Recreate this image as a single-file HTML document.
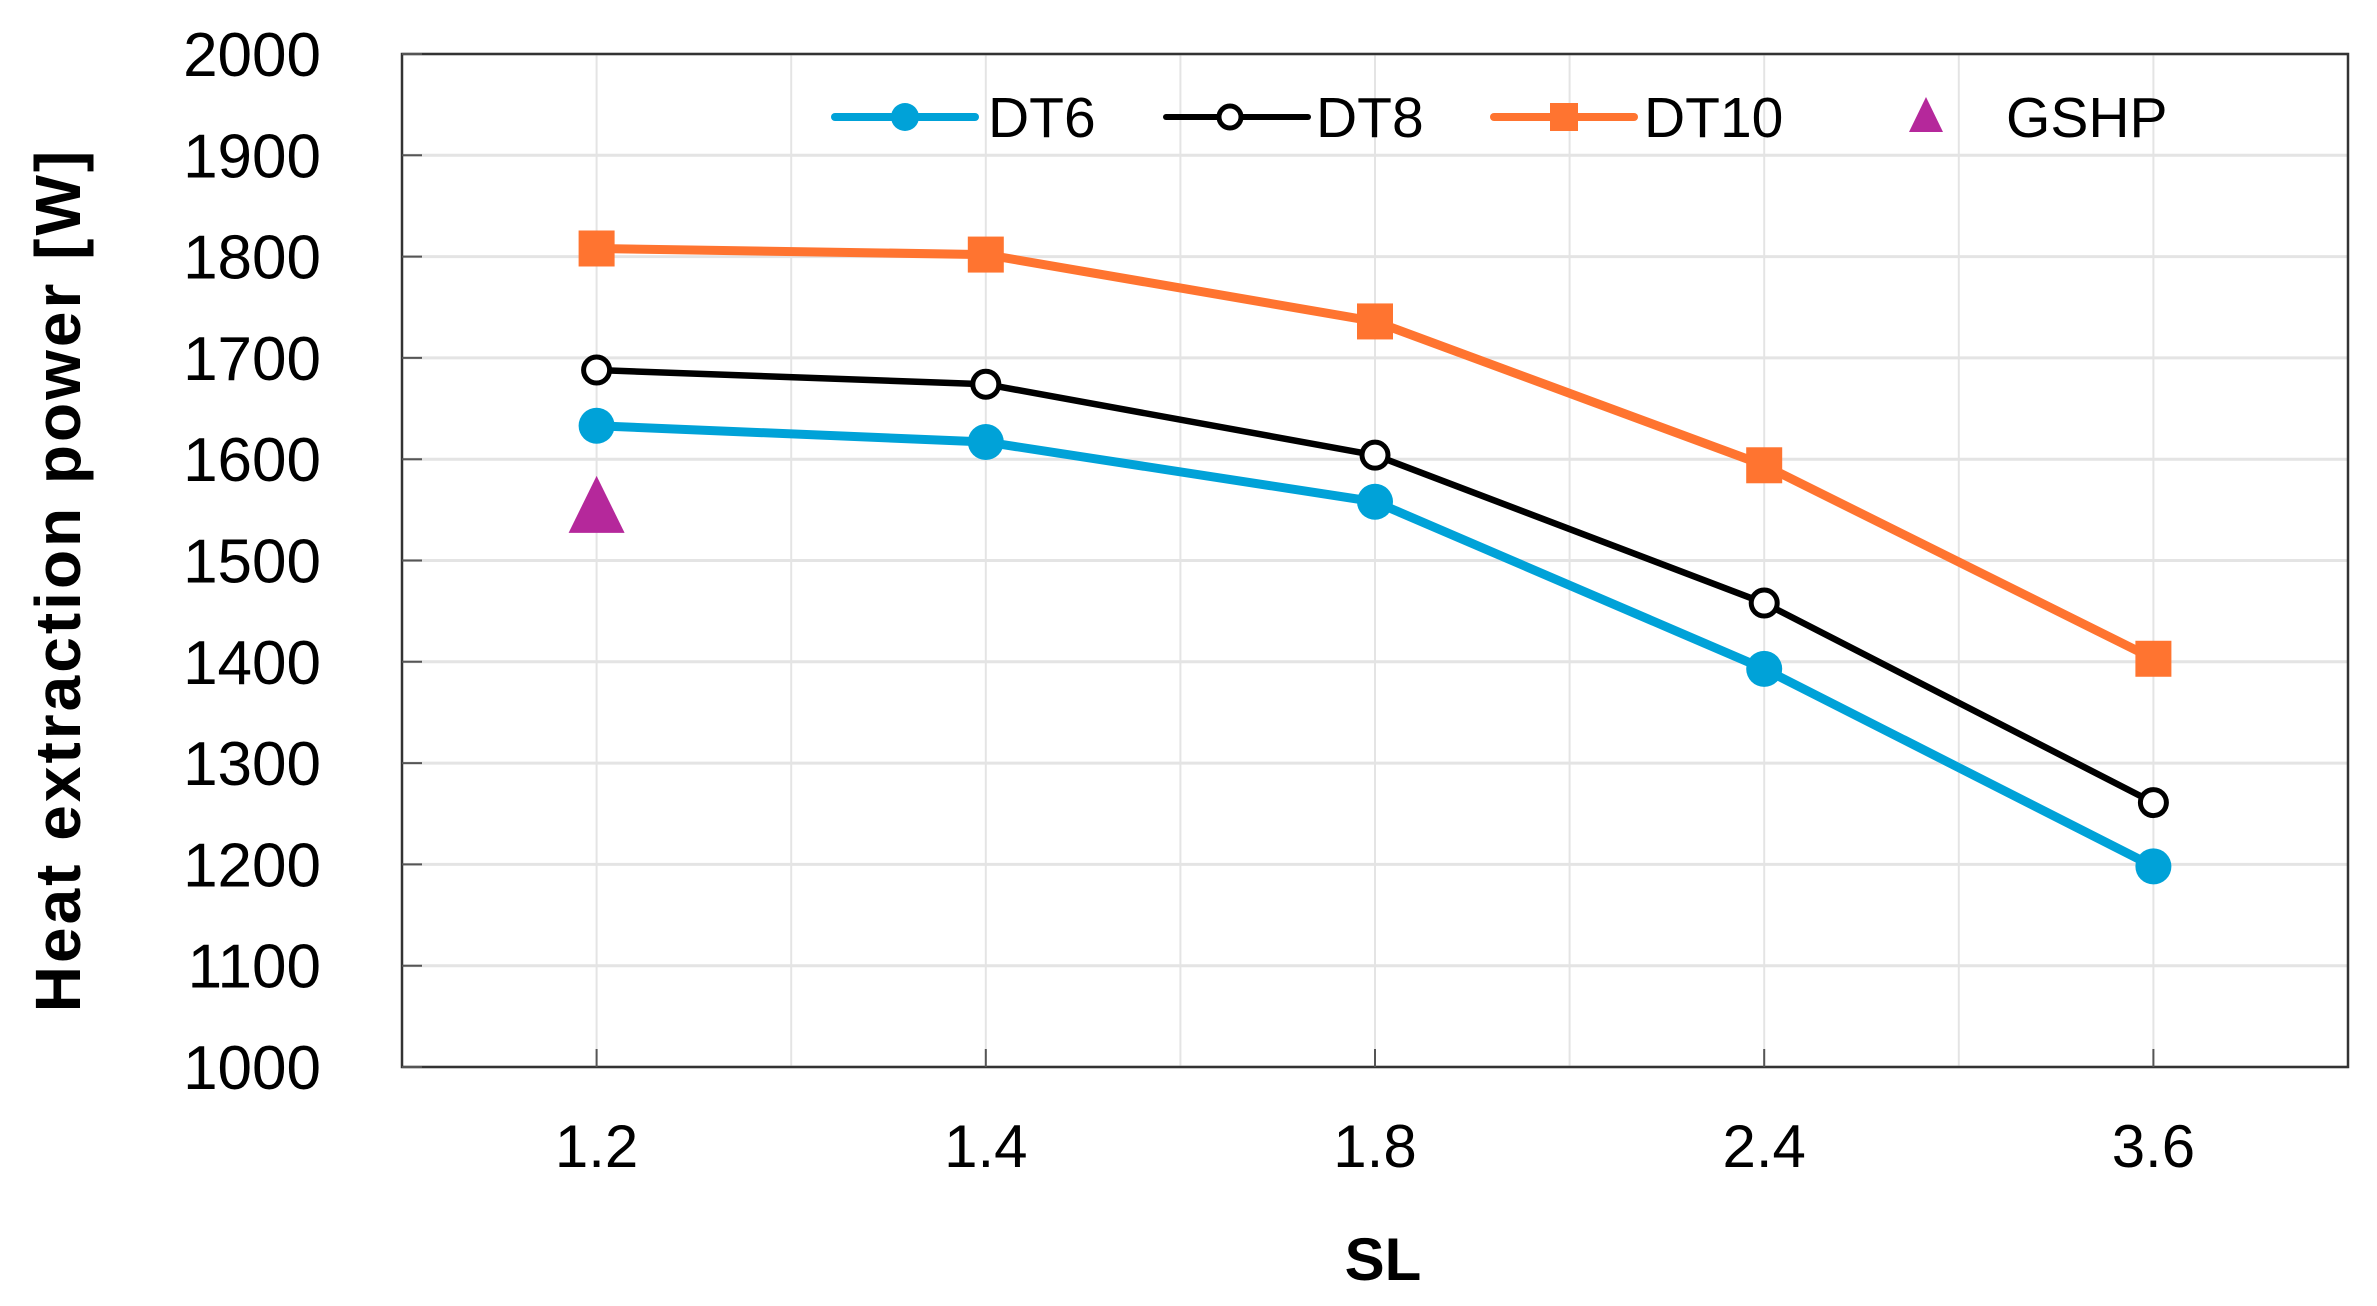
<!DOCTYPE html>
<html><head><meta charset="utf-8"><style>
html,body{margin:0;padding:0;background:#fff;}
svg{display:block;font-family:"Liberation Sans",sans-serif;}
</style></head><body>
<svg id="chart" width="2377" height="1306" viewBox="0 0 2377 1306"></svg>
<script>
const categories = ["1.2","1.4","1.8","2.4","3.6"];
const dt6 = [1633,1617,1558,1393,1198];
const dt8 = [1688,1674,1604,1458,1261];
const dt10 = [1808,1802,1736,1594,1403];
const gshp = [1548];
const yTicks = [1000,1100,1200,1300,1400,1500,1600,1700,1800,1900,2000];

const NS="http://www.w3.org/2000/svg";
const svg=document.getElementById('chart');
const L=402,R=2348,T=54,B=1067;
const band=(R-L)/categories.length;
function x(i){return L+band*(i+0.5);}
function y(v){return B-(v-1000)/1000*(B-T);}
function el(tag,attrs,parent){const e=document.createElementNS(NS,tag);for(const k in attrs)e.setAttribute(k,attrs[k]);(parent||svg).appendChild(e);return e;}

const grid=el('g',{});


yTicks.forEach(v=>{el('line',{x1:L,x2:R,y1:y(v),y2:y(v),stroke:'#e4e4e4','stroke-width':3},grid);});
for(let i=0;i<=categories.length*2;i++){const xx=L+band*i/2;el('line',{x1:xx,x2:xx,y1:T,y2:B,stroke:'#e4e4e4','stroke-width':2},grid);}
const frame=el('rect',{x:L,y:T,width:R-L,height:B-T,fill:'none',stroke:'#333','stroke-width':2.5});



yTicks.forEach(v=>{
  el('line',{x1:L,x2:L+20,y1:y(v),y2:y(v),stroke:'#555','stroke-width':2});
  const t=el('text',{x:321,y:y(v)+22,'text-anchor':'end','font-size':62,fill:'#000'});
  t.textContent=v;
  
  
});
categories.forEach((c,i)=>{
  el('line',{x1:x(i),x2:x(i),y1:B,y2:B-18,stroke:'#555','stroke-width':2});
  const t=el('text',{x:x(i),y:1167,'text-anchor':'middle','font-size':60,fill:'#000'});
  t.textContent=c;
  
  
});
const xt=el('text',{x:1383,y:1280,'text-anchor':'middle','font-size':60,'font-weight':'bold'});
xt.textContent='SL';


const yt=el('text',{x:0,y:0,'text-anchor':'middle','font-size':64,'font-weight':'bold','letter-spacing':3,transform:'translate(80,580) rotate(-90)'});
yt.textContent='Heat extraction power [W]';



function series(vals,color,w,name){
  const g=el('g',{});
  
  
  el('polyline',{points:vals.map((v,i)=>x(i)+','+y(v)).join(' '),fill:'none',stroke:color,'stroke-width':w,'stroke-linejoin':'round'},g);
  return g;
}
const g10=series(dt10,'#ff7430',9,'series-dt10');
dt10.forEach((v,i)=>{const m=el('rect',{x:x(i)-18,y:y(v)-18,width:36,height:36,fill:'#ff7430'},g10);});
const g8=series(dt8,'#000',6.5,'series-dt8');
dt8.forEach((v,i)=>{const m=el('circle',{cx:x(i),cy:y(v),r:13,fill:'#fff',stroke:'#000','stroke-width':5},g8);});
const g6=series(dt6,'#00a2d8',9,'series-dt6');
dt6.forEach((v,i)=>{const m=el('circle',{cx:x(i),cy:y(v),r:18,fill:'#00a2d8'},g6);});
gshp.forEach((v,i)=>{const cx=x(i),cy=y(v);const m=el('polygon',{points:`${cx},${cy-36} ${cx+28},${cy+21} ${cx-28},${cy+21}`,fill:'#b5289b'});});

const lg=el('g',{});


const ly=117;
function ltext(tx,s){const t=el('text',{x:tx,y:ly+20,'font-size':57,fill:'#000'},lg);t.textContent=s;}
el('line',{x1:835,x2:975,y1:ly,y2:ly,stroke:'#00a2d8','stroke-width':8,'stroke-linecap':'round'},lg);
el('circle',{cx:905,cy:ly,r:14,fill:'#00a2d8'},lg);ltext(988,'DT6');
el('line',{x1:1166,x2:1308,y1:ly,y2:ly,stroke:'#000','stroke-width':6,'stroke-linecap':'round'},lg);
el('circle',{cx:1230,cy:ly,r:11,fill:'#fff',stroke:'#000','stroke-width':5},lg);ltext(1316,'DT8');
el('line',{x1:1494,x2:1634,y1:ly,y2:ly,stroke:'#ff7430','stroke-width':8,'stroke-linecap':'round'},lg);
el('rect',{x:1550,y:ly-14,width:28,height:28,fill:'#ff7430'},lg);ltext(1644,'DT10');
el('polygon',{points:`1926,${ly-20} 1943,${ly+15} 1909,${ly+15}`,fill:'#b5289b'},lg);ltext(2006,'GSHP');
</script>
</body></html>
